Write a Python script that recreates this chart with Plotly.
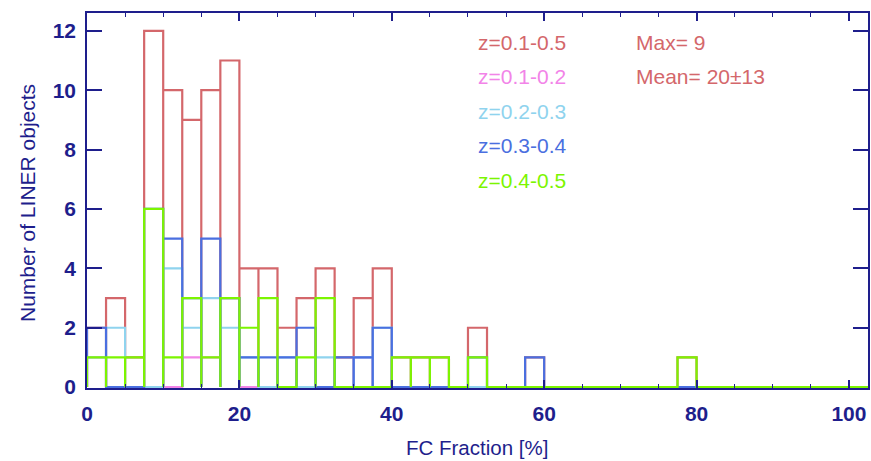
import plotly.graph_objects as go

# Bin edges: 2.5% wide bins from 0 to 102.5
bin_width = 2.5
n_bins = 41

# Counts per bin (bin k covers [2.5k, 2.5k+2.5]); trailing bins are zero
z01_05 = [2, 3, 1, 12, 10, 9, 10, 11, 4, 4, 2, 3, 4, 1, 3, 4, 1, 1, 1, 0, 2, 0, 0, 1, 0, 0, 0, 0, 0, 0, 0, 1]
z01_02 = [1, 0, 0, 0, 0, 1, 1, 3, 0, 0, 0, 0, 0, 0, 1, 0]
z02_03 = [1, 2, 0, 0, 4, 2, 3, 2, 1, 0, 1, 0, 1, 0, 1, 2]
z03_04 = [2, 0, 0, 6, 5, 3, 5, 3, 1, 1, 1, 2, 0, 1, 1, 2, 0, 0, 0, 0, 1, 0, 0, 1]
z04_05 = [1, 1, 1, 6, 1, 3, 1, 3, 2, 3, 0, 1, 3, 0, 0, 0, 1, 1, 1, 0, 1, 0, 0, 0, 0, 0, 0, 0, 0, 0, 0, 1]

series_names = ["z=0.1-0.5", "z=0.1-0.2", "z=0.2-0.3", "z=0.3-0.4", "z=0.4-0.5"]
series_values = [z01_05, z01_02, z02_03, z03_04, z04_05]
series_colors = ["#d4676b", "#f284e8", "#8fd3ee", "#4a6fe0", "#7cf500"]

stats_lines = ["Max= 9", "Mean= 20\u00b113"]

x_ticks = [0, 20, 40, 60, 80, 100]
y_ticks = [0, 2, 4, 6, 8, 10, 12]
x_title = "FC Fraction [%]"
y_title = "Number of LINER objects"

NAVY = "#1e1e8c"
NARROW = "Liberation Sans Narrow, Liberation Sans, Arial"
REGULAR = "Liberation Sans, Arial, sans-serif"

W, H = 871, 461
ML, MR, MT, MB = 87, 3, 13, 73
PW, PH = W - ML - MR, H - MT - MB


def outline(vals):
    full = list(vals) + [0] * (n_bins - len(vals))
    xs, ys = [], []
    for k, h in enumerate(full):
        e0 = k * bin_width
        e1 = e0 + bin_width
        xs += [e0, e0, e1, e1]
        ys += [0, h, h, 0]
    return xs, ys


fig = go.Figure()
for name, vals, col in zip(series_names, series_values, series_colors):
    xs, ys = outline(vals)
    fig.add_trace(go.Scatter(x=xs, y=ys, mode="lines", name=name,
                             line=dict(color=col, width=2.2), showlegend=False,
                             hoverinfo="skip"))

ann = []
for i, (name, col) in enumerate(zip(series_names, series_colors)):
    ann.append(dict(x=0.498, y=1 - (29 + 34.6 * i) / PH, xref="paper", yref="paper",
                    text=name, showarrow=False, xanchor="left", yanchor="middle",
                    font=dict(family=REGULAR, size=21, color=col)))
for i, t in enumerate(stats_lines):
    ann.append(dict(x=0.701, y=1 - (29 + 34.6 * i) / PH, xref="paper", yref="paper",
                    text=t, showarrow=False, xanchor="left", yanchor="middle",
                    font=dict(family=REGULAR, size=21, color=series_colors[0])))
# axis titles
ann.append(dict(x=(477 - ML) / PW, y=-(447 - MT - PH) / PH, xref="paper", yref="paper",
                text=x_title, showarrow=False, xanchor="center", yanchor="middle",
                font=dict(family=NARROW, size=20.5, color=NAVY)))
ann.append(dict(x=-(ML - 27) / PW, y=1 - (203 - MT) / PH, xref="paper", yref="paper",
                text=y_title, showarrow=False, xanchor="center", yanchor="middle",
                textangle=-90, font=dict(family=REGULAR, size=21, color=NAVY)))

fig.update_layout(
    width=W, height=H,
    margin=dict(l=ML, r=MR, t=MT, b=MB),
    plot_bgcolor="white", paper_bgcolor="white",
    annotations=ann,
    font=dict(family=NARROW, color=NAVY),
)
fig.update_xaxes(
    range=[0, 102.5], showgrid=False, zeroline=False, automargin=False,
    showline=True, linecolor=NAVY, linewidth=1.5, mirror="allticks",
    ticks="inside", ticklen=8, tickwidth=1.5, tickcolor=NAVY,
    tickvals=x_ticks, ticktext=[str(v) for v in x_ticks],
    ticklabelstandoff=6,
    minor=dict(dtick=5, tick0=0, ticks="inside", ticklen=4, tickwidth=1.2, tickcolor=NAVY),
    tickfont=dict(size=21, color=NAVY, family=NARROW, weight="bold"),
)
fig.update_yaxes(
    range=[-0.03, 12.6], showgrid=False, zeroline=False, automargin=False,
    showline=True, linecolor=NAVY, linewidth=1.5, mirror="allticks",
    ticks="inside", ticklen=15, tickwidth=1.5, tickcolor=NAVY,
    tickvals=y_ticks, ticktext=[str(v) for v in y_ticks],
    ticklabelstandoff=5,
    tickfont=dict(size=21, color=NAVY, family=NARROW, weight="bold"),
)

fig.write_html("out.html")
